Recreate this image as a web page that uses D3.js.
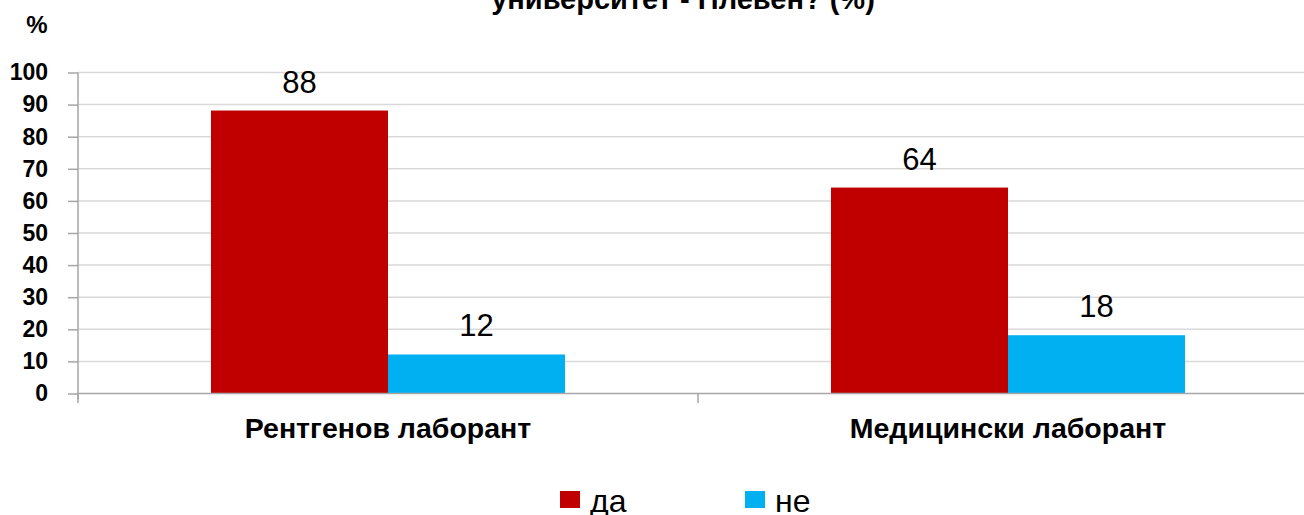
<!DOCTYPE html>
<html>
  <head>
    <meta charset="utf-8" />
    <script src="https://d3js.org/d3.v7.min.js"></script>
    <style>
      body { margin: 0; background: #fff; font-family: 'Liberation Sans', Arial, sans-serif; }
      svg text { font-family: 'Liberation Sans', Arial, sans-serif; }
    </style>
  </head>
  <body>
    <div id="chart"></div>
    <script>
      // данни
      const categories = ['Рентгенов лаборант', 'Медицински лаборант'];
      const seriesNames = ['да', 'не'];
      const seriesColors = ['#C00000', '#00B0F0'];
      const valuesYes = [88, 64];
      const valuesNo = [12, 18];
      const yTicks = [0, 10, 20, 30, 40, 50, 60, 70, 80, 90, 100];
      const titleText = 'университет - Плевен? (%)';

      const width = 1304;
      const height = 515;
      const margin = { top: 72, right: -14, bottom: 122, left: 78 };

      const svg = d3
        .select('#chart')
        .append('svg')
        .attr('width', width)
        .attr('height', height);

      const x0 = d3
        .scaleBand()
        .domain(categories)
        .range([margin.left, width - margin.right])
        .paddingInner(0.429)
        .paddingOuter(0.2145);

      const x1 = d3
        .scaleBand()
        .domain(seriesNames)
        .range([0, x0.bandwidth()]);

      const y = d3
        .scaleLinear()
        .domain([0, 100])
        .range([height - margin.bottom, margin.top]);

      // заглавие (отрязано отгоре)
      svg
        .append('text')
        .attr('x', 683)
        .attr('y', 9)
        .attr('text-anchor', 'middle')
        .attr('font-size', 29)
        .attr('font-weight', 'bold')
        .text(titleText);

      // решетка
      svg
        .append('g')
        .selectAll('line')
        .data(yTicks.slice(1))
        .join('line')
        .attr('x1', margin.left)
        .attr('x2', width)
        .attr('y1', (d) => y(d) + 0.5)
        .attr('y2', (d) => y(d) + 0.5)
        .attr('stroke', '#d9d9d9')
        .attr('stroke-width', 1.5);

      // ос Y
      const yAxis = svg
        .append('g')
        .attr('transform', `translate(${margin.left},0.5)`)
        .call(d3.axisLeft(y).tickValues(yTicks).tickSize(10).tickPadding(20));
      yAxis.select('.domain').attr('stroke', '#a6a6a6').attr('stroke-width', 1.5)
        .attr('d', `M0,${y(100)}V${y(0) + 6}`);
      yAxis.selectAll('.tick line').attr('stroke', '#a6a6a6').attr('stroke-width', 1.5);
      yAxis
        .selectAll('.tick text')
        .attr('font-size', 23)
        .attr('font-weight', 'bold')
        .attr('fill', '#000')
        .attr('font-family', 'Liberation Sans, Arial, sans-serif');

      svg
        .append('text')
        .attr('x', 37)
        .attr('y', 33)
        .attr('text-anchor', 'middle')
        .attr('font-size', 24)
        .attr('font-weight', 'bold')
        .text('%');

      // стълбове
      const data = categories.map((c, i) => ({
        category: c,
        values: [
          { key: seriesNames[0], value: valuesYes[i] },
          { key: seriesNames[1], value: valuesNo[i] },
        ],
      }));

      const groups = svg
        .append('g')
        .selectAll('g')
        .data(data)
        .join('g')
        .attr('transform', (d) => `translate(${x0(d.category)},0)`);

      groups
        .selectAll('rect')
        .data((d) => d.values)
        .join('rect')
        .attr('x', (d) => x1(d.key))
        .attr('y', (d) => y(d.value))
        .attr('width', x1.bandwidth())
        .attr('height', (d) => y(0) - y(d.value))
        .attr('fill', (d, i) => seriesColors[i]);

      groups
        .selectAll('text')
        .data((d) => d.values)
        .join('text')
        .attr('x', (d) => x1(d.key) + x1.bandwidth() / 2)
        .attr('y', (d) => y(d.value) - 18)
        .attr('text-anchor', 'middle')
        .attr('font-size', 31)
        .text((d) => d.value);

      // ос X
      const step = x0.step();
      const bounds = [margin.left, margin.left + step, margin.left + 2 * step];
      const xAxis = svg.append('g');
      xAxis
        .append('line')
        .attr('x1', margin.left)
        .attr('x2', width)
        .attr('y1', y(0) + 0.5)
        .attr('y2', y(0) + 0.5)
        .attr('stroke', '#a6a6a6')
        .attr('stroke-width', 1.5);
      xAxis
        .selectAll('.sep')
        .data(bounds)
        .join('line')
        .attr('class', 'sep')
        .attr('x1', (d) => d)
        .attr('x2', (d) => d)
        .attr('y1', y(0))
        .attr('y2', y(0) + 10)
        .attr('stroke', '#a6a6a6')
        .attr('stroke-width', 1.5);
      xAxis
        .selectAll('.cat')
        .data(categories)
        .join('text')
        .attr('class', 'cat')
        .attr('x', (d) => x0(d) + x0.bandwidth() / 2)
        .attr('y', 438)
        .attr('text-anchor', 'middle')
        .attr('font-size', 28.5)
        .attr('font-weight', 'bold')
        .text((d) => d);

      // легенда
      const legendX = [560, 745];
      const legend = svg
        .append('g')
        .selectAll('g')
        .data(seriesNames)
        .join('g')
        .attr('transform', (d, i) => `translate(${legendX[i]},491)`);
      legend
        .append('rect')
        .attr('width', 20)
        .attr('height', 17)
        .attr('fill', (d, i) => seriesColors[i]);
      legend
        .append('text')
        .attr('x', 30)
        .attr('y', 21)
        .attr('font-size', 32)
        .text((d) => d);
    </script>
  </body>
</html>
